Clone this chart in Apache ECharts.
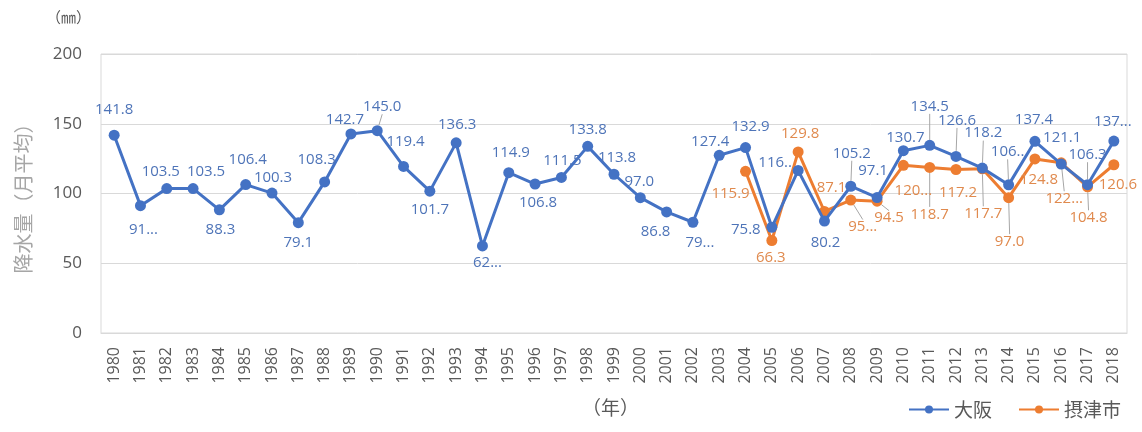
<!DOCTYPE html>
<html>
<head>
<meta charset="utf-8">
<script src="https://cdn.jsdelivr.net/npm/echarts@6/dist/echarts.min.js"></script>
<style>
  html, body { margin: 0; padding: 0; background: #fff; }
  #chart { width: 1142px; height: 432px; }
</style>
</head>
<body>
<div id="chart"></div>
<script>
var years = [];
for (var y = 1980; y <= 2018; y++) years.push(String(y));

var osaka = [141.8, 91.3, 103.5, 103.5, 88.3, 106.4, 100.3, 79.1, 108.3, 142.7,
  145.0, 119.4, 101.7, 136.3, 62.4, 114.9, 106.8, 111.5, 133.8, 113.8,
  97.0, 86.8, 79.4, 127.4, 132.9, 75.8, 116.5, 80.2, 105.2, 97.1,
  130.7, 134.5, 126.6, 118.2, 106.2, 137.4, 121.1, 106.3, 137.6];

var settsu = [null, null, null, null, null, null, null, null, null, null,
  null, null, null, null, null, null, null, null, null, null,
  null, null, null, null, 115.9, 66.3, 129.8, 87.1, 95.3, 94.5,
  120.2, 118.7, 117.2, 117.7, 97.0, 124.8, 122.0, 104.8, 120.6];

var yTicks = [0, 50, 100, 150, 200];

// labels the original shows cut short
var osakaCut = {1: 1, 14: 1, 22: 1, 26: 2, 34: 2, 38: 1};
var settsuCut = {28: 1, 30: 1, 36: 1};

// label centre relative to the point, in px
var osakaOff = [[0,-25],[3,24],[-6,-17],[13,-17],[1,20],[2,-25],[1,-15],[0,20],[-8,-22],[-6,-14],
  [5,-24],[2,-25],[0,19],[1,-18],[5,17],[2,-20],[3,19],[1,-17],[0,-17],[3,-17],
  [-1,-16],[-11,20],[7,20],[-9,-14],[5,-21],[-26,2],[-23,-8],[1,22],[1,-33],[-4,-27],
  [2,-13],[0,-39],[1,-36],[1,-35],[-1,-33],[-1,-22],[1,-26],[0,-30],[-1,-19]];
var settsuOff = {24: [-15,22], 25: [-1,17], 26: [2,-18], 27: [7,-24], 28: [12,27], 29: [12,17],
  30: [10,25], 31: [0,47], 32: [2,23], 33: [1,45], 34: [1,44], 35: [4,21],
  36: [3,36], 37: [1,31], 38: [4,20]};
var osakaGuide = {10: 1, 28: 1, 31: 1, 32: 1, 33: 1, 34: 1, 37: 1};
var settsuGuide = {28: 1, 29: 1, 31: 1, 33: 1, 34: 1, 36: 1, 37: 1};

function cutText(v, mode) {
  var s = v.toFixed(1);
  if (mode === 1) return s.split('.')[0] + '...';
  if (mode === 2) return s.split('.')[0] + '..';
  return s;
}

var osakaData = osaka.map(function (v, i) {
  return { value: v, label: { formatter: cutText(v, osakaCut[i]) },
    labelLine: { show: !!osakaGuide[i] } };
});
var settsuData = settsu.map(function (v, i) {
  if (v === null) return null;
  return { value: v, label: { formatter: cutText(v, settsuCut[i]) },
    labelLine: { show: !!settsuGuide[i] } };
});

var font = '"Noto Sans CJK JP", "Noto Sans", sans-serif';
var numFont = '"Open Sans", "Noto Sans", sans-serif';

var chart = echarts.init(document.getElementById('chart'));
chart.setOption({
  animation: false,
  textStyle: { fontFamily: font },
  grid: {
    left: 101, right: 15, top: 54, bottom: 99,
    show: true, borderColor: '#d9d9d9', borderWidth: 1
  },
  xAxis: {
    type: 'category',
    data: years,
    boundaryGap: true,
    axisLine: { lineStyle: { color: '#d9d9d9' } },
    axisTick: { show: false },
    axisLabel: { rotate: 90, color: '#595959', fontSize: 16, margin: 14, fontFamily: numFont }
  },
  yAxis: {
    type: 'value',
    min: 0, max: 200, interval: 50,
    name: '降水量（月平均）',
    nameLocation: 'middle',
    nameRotate: 90,
    nameGap: 68,
    nameTextStyle: { color: '#a6a6a6', fontSize: 20 },
    axisLabel: { color: '#595959', fontSize: 17, margin: 19, fontFamily: numFont,
      formatter: function (v) { return yTicks.indexOf(v) >= 0 ? String(v) : ''; } },
    splitLine: { lineStyle: { color: '#d9d9d9' } },
    axisLine: { show: false },
    axisTick: { show: false }
  },
  legend: {
    right: 16, bottom: 8,
    itemWidth: 40, itemHeight: 10, itemGap: 26,
    textStyle: { color: '#595959', fontSize: 19 },
    data: ['大阪', '摂津市']
  },
  graphic: [
    { type: 'text', left: 46, top: 10, style: { text: '（㎜）', fill: '#595959', font: '15px ' + font } },
    { type: 'text', left: 582, top: 398, style: { text: '（年）', fill: '#595959', font: '19px ' + font } }
  ],
  series: [
    {
      name: '大阪', type: 'line', data: osakaData,
      symbol: 'circle', symbolSize: 11,
      itemStyle: { color: '#4472c4' },
      lineStyle: { color: '#4472c4', width: 3 },
      label: { show: true, position: 'inside', color: '#4e74b8', fontSize: 15, fontFamily: numFont },
      labelLine: { lineStyle: { color: '#a6a6a6', width: 1 } },
      labelLayout: function (p) {
        var o = osakaOff[p.dataIndex];
        return { dx: o[0], dy: o[1] };
      },
      z: 3
    },
    {
      name: '摂津市', type: 'line', data: settsuData,
      symbol: 'circle', symbolSize: 11,
      itemStyle: { color: '#ed7d31' },
      lineStyle: { color: '#ed7d31', width: 3 },
      label: { show: true, position: 'inside', color: '#e08a4e', fontSize: 15, fontFamily: numFont },
      labelLine: { lineStyle: { color: '#a6a6a6', width: 1 } },
      labelLayout: function (p) {
        var o = settsuOff[p.dataIndex] || [0, 0];
        return { dx: o[0], dy: o[1] };
      },
      z: 2
    }
  ]
});
</script>
</body>
</html>
